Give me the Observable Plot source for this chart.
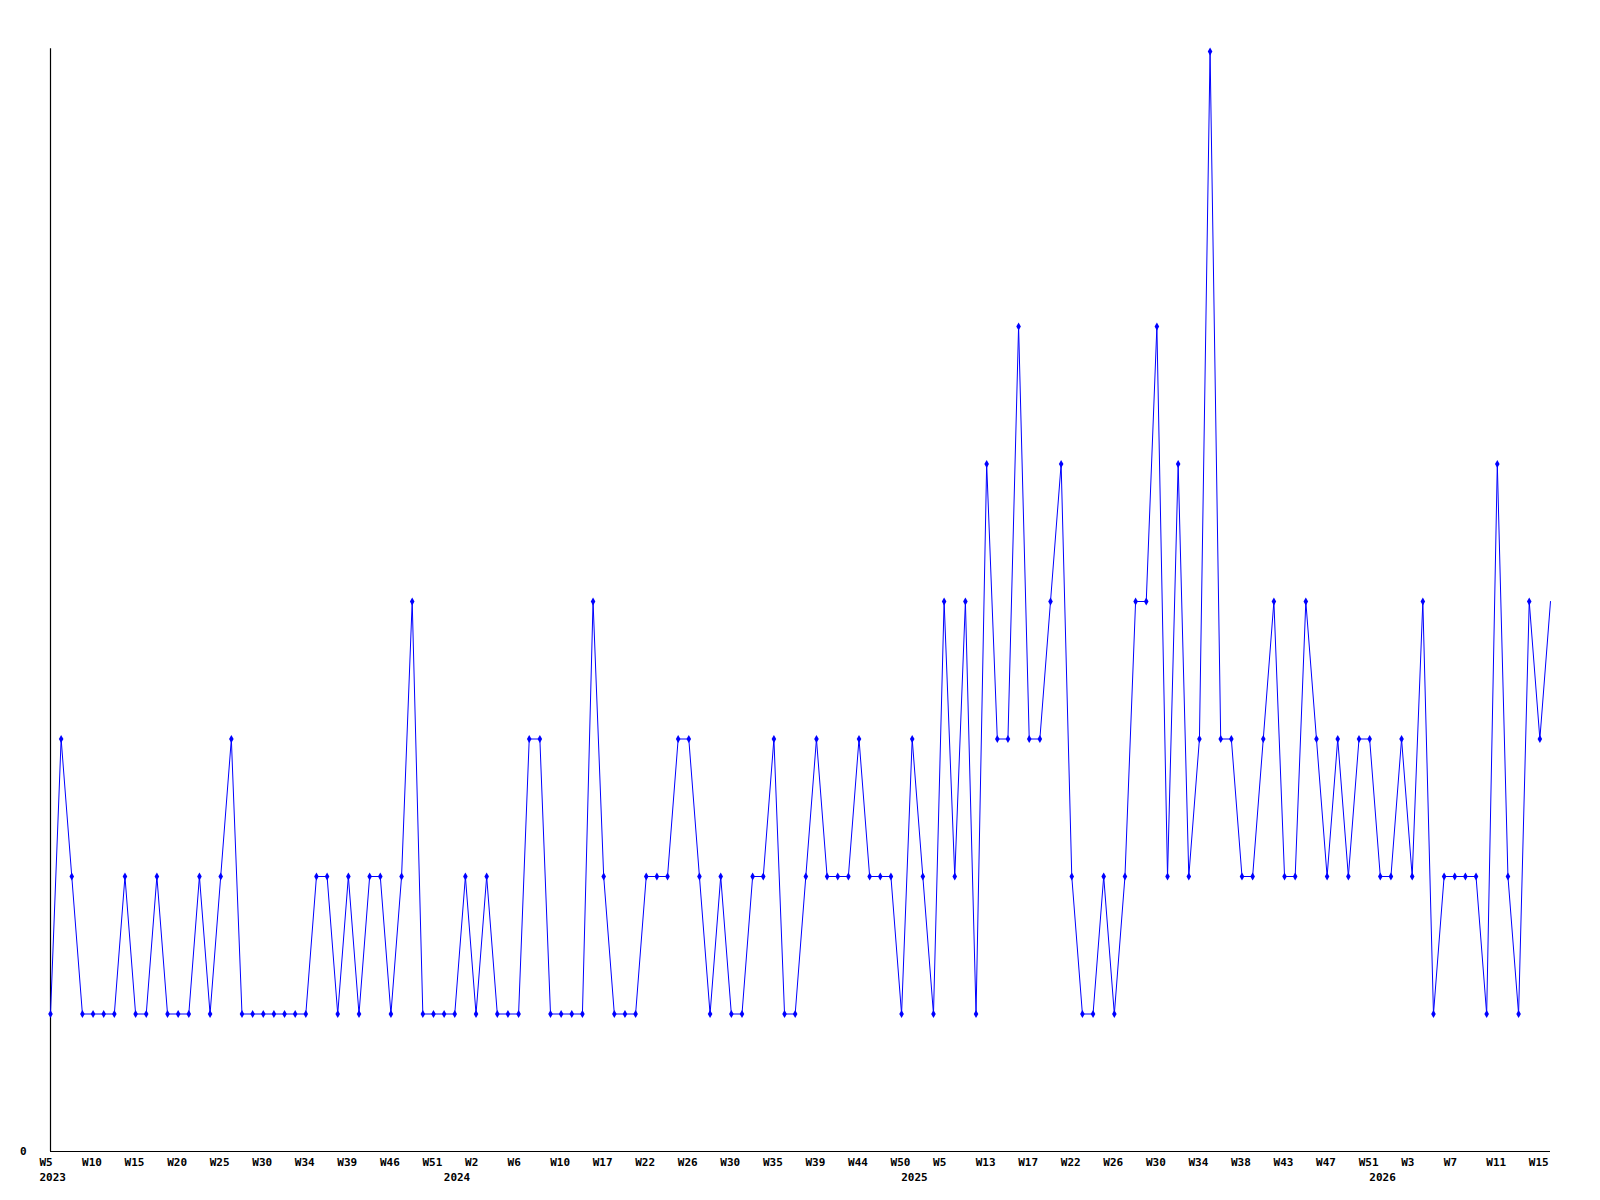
<!DOCTYPE html>
<html>
<head>
<meta charset="utf-8">
<script src="https://cdn.jsdelivr.net/npm/d3@7"></script>
<script src="https://cdn.jsdelivr.net/npm/@observablehq/plot@0.6"></script>
<style>
  html, body { margin: 0; padding: 0; background: #fff; }
  #chart svg { display: block; }
</style>
</head>
<body>
<div id="chart"></div>
<script>
// Weekly counts, one entry per reported week (2023 W5 … 2026 W15)
const values = [
  1,3,2,1,1,1,1,2,1,1, 2,1,1,1,2,1,2,3,1,1, 1,1,1,1,1,2,2,1,2,1, 2,2,1,2,4,1,1,1,
  1,2,1,2,1,1,1,3,3,1, 1,1,1,4,2,1,1,1,2,2, 2,3,3,2,1,2,1,1,2,2, 3,1,1,2,3,2,2,
  2,3,2,2,2,1,3,2,1,4, 2,4,1,5,3,3,6,3,3,4, 5,2,1,1,2,1,2,4,4,6, 2,5,2,3,8,3,3,
  2,2,3,4,2,2,4,3,2,3, 2,3,3,2,2,3,2,4,1,2, 2,2,2,1,5,2,1,4,3,4
];
// Week tick labels (every 4th reported week)
const weekLabels = ["W5","W10","W15","W20","W25","W30","W34","W39","W46","W51",
  "W2","W6","W10","W17","W22","W26","W30","W35","W39","W44","W50",
  "W5","W13","W17","W22","W26","W30","W34","W38","W43","W47","W51",
  "W3","W7","W11","W15"];
const labelStep = 4;
// Year labels and the sequence number of the first reported week of that year
const years = ["2023","2024","2025","2026"];
const yearStart = [0, 38, 81, 125];

const data = values.map((v, i) => ({i, v}));
const weekTicks = weekLabels.map((_, k) => k * labelStep);
const font = "'DejaVu Sans Mono', monospace";

const chart = Plot.plot({
  width: 1600,
  height: 1200,
  marginLeft: 50,
  marginRight: 50,
  marginTop: 51,
  marginBottom: 49,
  style: {fontFamily: font, fontSize: "11px", fontWeight: "bold", color: "#000", background: "#fff"},
  x: {type: "linear", domain: [0, values.length - 1]},
  y: {domain: [0, 8]},
  marks: [
    Plot.ruleY([0], {stroke: "#000", strokeWidth: 1.2}),
    Plot.ruleX([0], {y1: 0, y2: 8.02, stroke: "#000", strokeWidth: 1.2}),
    Plot.axisY({ticks: [0], tickSize: 0, tickPadding: 24, label: null, fontWeight: "bold"}),
    Plot.axisX(weekTicks, {
      tickSize: 0, tickPadding: 7, textAnchor: "start", dx: -11, label: null,
      tickFormat: (d) => weekLabels[d / labelStep]
    }),
    Plot.axisX(yearStart, {
      tickSize: 0, tickPadding: 22, textAnchor: "start", dx: -11, label: null,
      tickFormat: (d) => years[yearStart.indexOf(d)]
    }),
    Plot.line(data, {x: "i", y: "v", stroke: "#0000ff", strokeWidth: 1, curve: "linear"}),
    Plot.dot(data.slice(0, -1), {x: "i", y: "v", symbol: "diamond", r: 2.4, fill: "#0000ff", stroke: "none"})
  ]
});
document.getElementById("chart").appendChild(chart);
</script>
</body>
</html>
